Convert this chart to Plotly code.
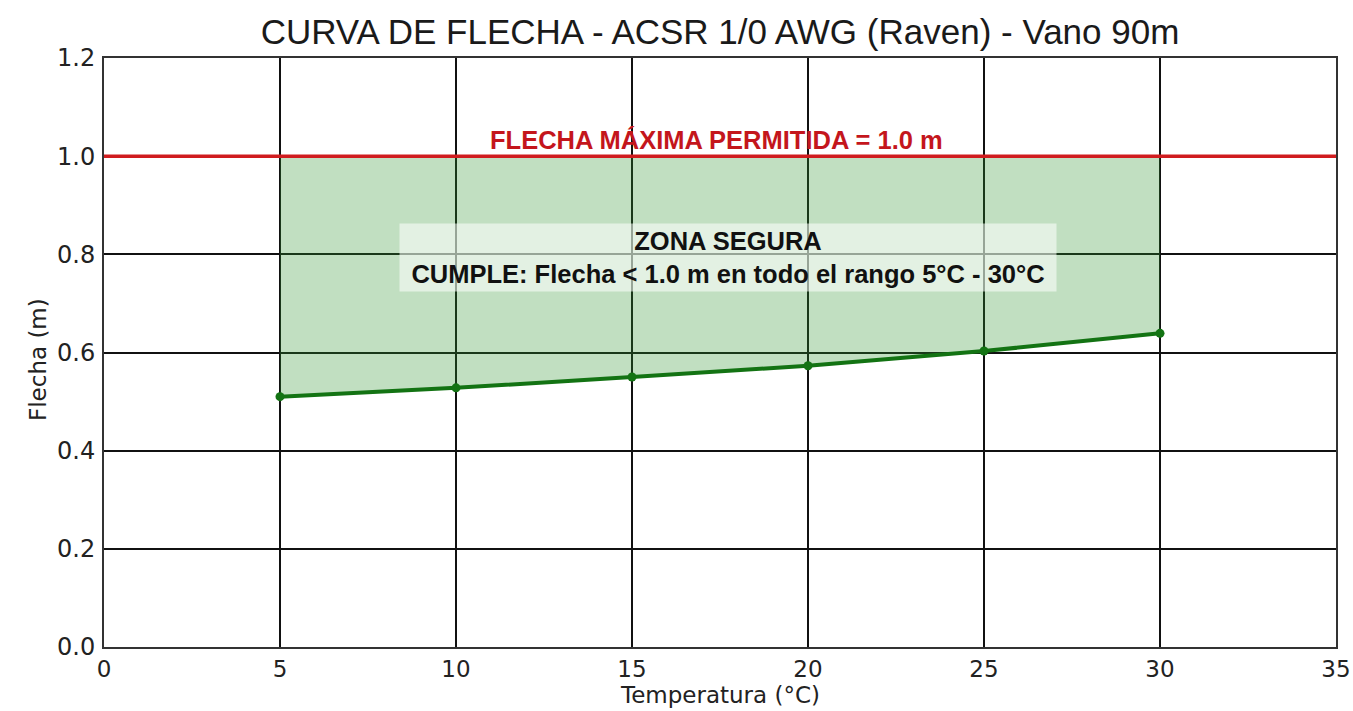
import plotly.graph_objects as go

temps = [5, 10, 15, 20, 25, 30]
sag = [0.510, 0.528, 0.550, 0.573, 0.603, 0.639]
max_sag = 1.0
x_ticks = [0, 5, 10, 15, 20, 25, 30, 35]
y_ticks = [0.0, 0.2, 0.4, 0.6, 0.8, 1.0, 1.2]

title = "CURVA DE FLECHA - ACSR 1/0 AWG (Raven) - Vano 90m"
x_title = "Temperatura (°C)"
y_title = "Flecha (m)"
limit_label = "FLECHA MÁXIMA PERMITIDA = 1.0 m"
zone_label = "ZONA SEGURA<br>CUMPLE: Flecha < 1.0 m en todo el rango 5°C - 30°C"

W, H = 1353, 711
L, R, T, B = 104, 17, 58, 64
PW, PH = W - L - R, H - T - B

fig = go.Figure()
fig.add_trace(go.Scatter(x=temps, y=[max_sag] * len(temps), mode="lines",
                         line=dict(width=0, color="rgba(0,0,0,0)"),
                         showlegend=False, hoverinfo="skip"))
fig.add_trace(go.Scatter(x=temps, y=sag, mode="lines+markers",
                         fill="tonexty", fillcolor="rgba(50,150,50,0.3)",
                         line=dict(color="#137313", width=4),
                         marker=dict(color="#137313", size=9),
                         showlegend=False))

fig.add_shape(type="line", xref="x", yref="y", x0=0, x1=35, y0=max_sag, y1=max_sag,
              line=dict(color="#d01c1f", width=3.5), layer="above")

fig.add_annotation(x=17.4, y=1.033, xref="x", yref="y", text=limit_label,
                   showarrow=False, yanchor="middle",
                   font=dict(family="Liberation Sans", size=25.5, color="#c4161c", weight="bold"))
fig.add_annotation(x=17.73, y=0.794, xref="x", yref="y", text=zone_label,
                   showarrow=False, align="center", width=650,
                   bgcolor="rgba(255,255,255,0.55)", borderpad=3,
                   font=dict(family="Liberation Sans", size=25.5, color="#111111", weight="bold"))

# axis titles as paper annotations
fig.add_annotation(x=0.5, y=-(695 - (H - B)) / PH, xref="paper", yref="paper",
                   text=x_title, showarrow=False, xanchor="center", yanchor="middle",
                   font=dict(family="DejaVu Sans", size=23, color="#222222"))
fig.add_annotation(x=(38 - L) / PW, y=(H - B - 360) / PH, xref="paper", yref="paper",
                   text=y_title, showarrow=False, textangle=-90,
                   xanchor="center", yanchor="middle",
                   font=dict(family="DejaVu Sans", size=23, color="#222222"))

fig.update_layout(
    width=W, height=H,
    margin=dict(l=L, r=R, t=T, b=B, autoexpand=False),
    paper_bgcolor="white", plot_bgcolor="white",
    title=dict(text=title, x=(720) / W, xanchor="center", y=1 - 32 / H, yanchor="middle",
               font=dict(family="Liberation Sans", size=35, color="#1a1a1a")),
)
fig.update_layout(title_xref="container")
fig.update_xaxes(range=[0, 35], tickvals=x_ticks, ticktext=[str(v) for v in x_ticks],
                 showgrid=True, gridcolor="#111111", gridwidth=1.5,
                 showline=True, linecolor="#333333", linewidth=2, mirror=True,
                 zeroline=False, ticks="", ticklabelstandoff=0,
                 ticklabeloverflow="allow", automargin=False,
                 tickfont=dict(family="DejaVu Sans", size=23, color="#222222"))
fig.update_yaxes(range=[0, 1.2], tickvals=y_ticks, ticktext=[f"{v:.1f}" for v in y_ticks],
                 showgrid=True, gridcolor="#111111", gridwidth=1.5,
                 showline=True, linecolor="#333333", linewidth=2, mirror=True,
                 zeroline=False, ticks="", ticklabelstandoff=2, automargin=False,
                 tickfont=dict(family="DejaVu Sans", size=24, color="#222222"))

fig.write_html("out.html", config={"displayModeBar": False},
               post_script="document.body.style.margin='0';")
